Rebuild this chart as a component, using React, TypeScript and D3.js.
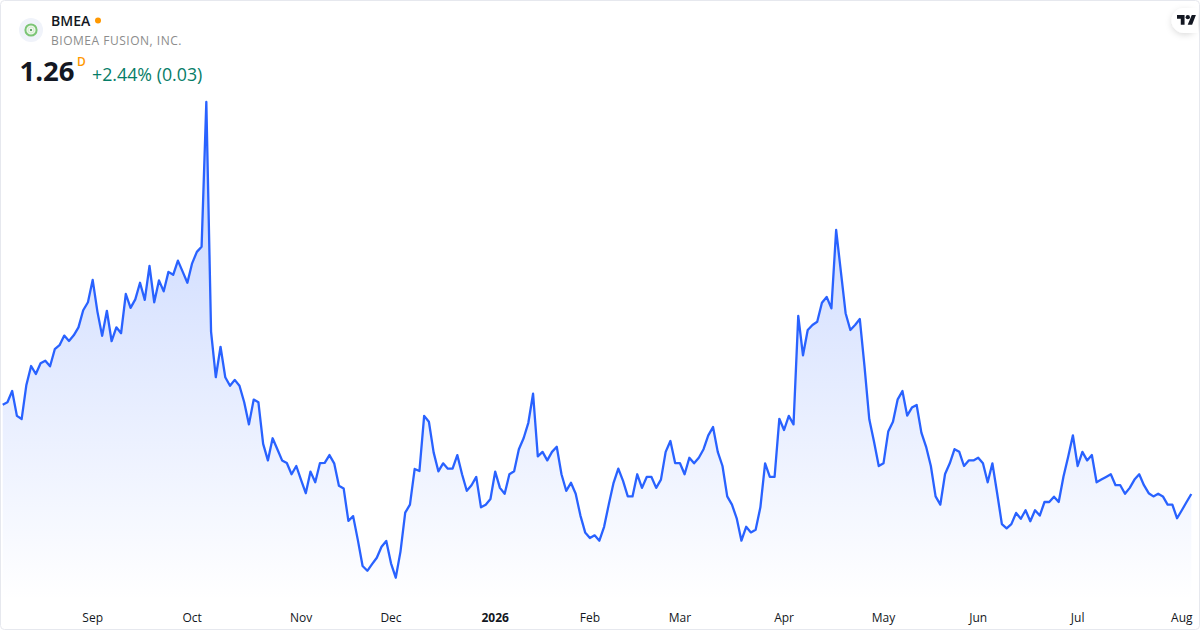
import * as d3 from "d3";

const width = 1200;
const height = 630;

// daily closes (252 sessions)
const closes = [
  1.595, 1.604, 1.646, 1.553, 1.541, 1.669, 1.74, 1.71, 1.75, 1.76, 1.739, 1.803,
  1.818, 1.854, 1.834, 1.855, 1.885, 1.949, 1.979, 2.063, 1.944, 1.853, 1.947, 1.833,
  1.885, 1.863, 2.01, 1.958, 1.99, 2.052, 1.988, 2.115, 1.979, 2.061, 2.02, 2.093,
  2.082, 2.135, 2.094, 2.052, 2.125, 2.168, 2.187, 2.73, 1.869, 1.698, 1.812, 1.698,
  1.666, 1.688, 1.666, 1.604, 1.521, 1.614, 1.604, 1.448, 1.386, 1.469, 1.428, 1.386,
  1.376, 1.334, 1.365, 1.313, 1.263, 1.344, 1.304, 1.376, 1.377, 1.406, 1.375, 1.291,
  1.281, 1.159, 1.177, 1.087, 0.99, 0.972, 0.997, 1.021, 1.062, 1.084, 1.0, 0.946,
  1.044, 1.19, 1.22, 1.354, 1.346, 1.553, 1.531, 1.416, 1.345, 1.375, 1.355, 1.355,
  1.406, 1.334, 1.272, 1.293, 1.324, 1.21, 1.22, 1.241, 1.344, 1.283, 1.261, 1.334,
  1.345, 1.428, 1.469, 1.527, 1.636, 1.401, 1.418, 1.386, 1.418, 1.437, 1.334, 1.272,
  1.302, 1.261, 1.179, 1.116, 1.095, 1.105, 1.085, 1.137, 1.222, 1.302, 1.355, 1.309,
  1.251, 1.251, 1.334, 1.283, 1.324, 1.324, 1.283, 1.314, 1.418, 1.459, 1.376, 1.376,
  1.334, 1.396, 1.375, 1.396, 1.428, 1.48, 1.511, 1.418, 1.365, 1.251, 1.22, 1.169,
  1.085, 1.137, 1.116, 1.126, 1.21, 1.375, 1.324, 1.324, 1.542, 1.5, 1.553, 1.521,
  1.928, 1.78, 1.875, 1.894, 1.906, 1.977, 1.999, 1.956, 2.25, 2.094, 1.938, 1.875,
  1.894, 1.916, 1.737, 1.54, 1.456, 1.365, 1.375, 1.494, 1.531, 1.615, 1.646, 1.554,
  1.584, 1.594, 1.49, 1.437, 1.365, 1.251, 1.22, 1.335, 1.375, 1.428, 1.418, 1.365,
  1.386, 1.386, 1.396, 1.375, 1.304, 1.375, 1.263, 1.147, 1.131, 1.147, 1.189, 1.167,
  1.199, 1.158, 1.199, 1.179, 1.23, 1.23, 1.25, 1.23, 1.325, 1.4, 1.48, 1.365,
  1.418, 1.386, 1.406, 1.304, 1.314, 1.324, 1.334, 1.293, 1.293, 1.261, 1.283, 1.314,
  1.334, 1.293, 1.263, 1.251, 1.261, 1.251, 1.22, 1.22, 1.169, 1.199, 1.23, 1.26,
];

const monthLabels = ["Sep", "Oct", "Nov", "Dec", "2026", "Feb", "Mar", "Apr", "May", "Jun", "Jul", "Aug"];
const monthSessions = [19, 40, 63, 82, 104, 124, 143, 165, 186, 206, 227, 249];

const fontStack = "'Open Sans', 'Noto Sans', sans-serif";

const App = () => {
  const sessions = d3.range(closes.length);

  // Set up the scales
  const xScale = d3.scalePoint<number>().domain(sessions).range([2.7, 1191.3]);
  const yScale = d3.scaleLinear().domain([1.26, 2.73]).range([494, 102]);
  const baseline = 600;

  const line = d3
    .line<number>()
    .x((_, i) => xScale(i)!)
    .y((d) => yScale(d));

  const area = d3
    .area<number>()
    .x((_, i) => xScale(i)!)
    .y0(baseline)
    .y1((d) => yScale(d));

  return (
    <svg
      width={width}
      height={height}
      style={{ position: "absolute", left: 0, top: 0, fontFamily: fontStack }}
    >
      <defs>
        <linearGradient
          id="fade"
          gradientUnits="userSpaceOnUse"
          x1={0}
          x2={0}
          y1={yScale(2.73)}
          y2={baseline}
        >
          <stop offset="0%" stopColor="#2962ff" stopOpacity={0.28} />
          <stop offset="100%" stopColor="#2962ff" stopOpacity={0} />
        </linearGradient>
        <filter id="bubble" x="-40%" y="-40%" width="180%" height="180%">
          <feDropShadow dx={0} dy={2} stdDeviation={3} floodColor="#000" floodOpacity={0.14} />
        </filter>
      </defs>

      <rect x={0} y={0} width={width} height={height} fill="#fff" />
      <rect
        x={0.5}
        y={0.5}
        width={width - 1}
        height={height - 1}
        rx={4}
        fill="none"
        stroke="#e6e8ee"
      />

      <path d={area(closes)!} fill="url(#fade)" />
      <path
        d={line(closes)!}
        fill="none"
        stroke="#2962ff"
        strokeWidth={2.3}
        strokeLinejoin="round"
      />

      {/* Month labels */}
      {monthLabels.map((label, i) => (
        <text
          key={label}
          x={xScale(monthSessions[i])!}
          y={622}
          fontSize={12}
          textAnchor="middle"
          fill="#131722"
          fontWeight={label === "2026" ? 700 : 400}
        >
          {label}
        </text>
      ))}

      {/* Symbol header */}
      <circle cx={31} cy={30} r={12} fill="#f0f3fa" />
      <circle cx={31} cy={30} r={5.6} fill="#eef7ec" stroke="#7cc576" strokeWidth={2} />
      <circle cx={31} cy={30} r={3} fill="none" stroke="#cfe9cb" strokeWidth={0.8} />
      <circle cx={31} cy={30} r={1} fill="#3f8f4a" />
      <text x={51} y={26} fontSize={14} fontWeight={600} fill="#131722">
        BMEA
      </text>
      <circle cx={98} cy={20.5} r={3} fill="#ff9800" />
      <text x={51} y={45} fontSize={12} fill="#8c8c8c" letterSpacing={0.52}>
        BIOMEA FUSION, INC.
      </text>
      <text x={19.5} y={81} fontSize={27.5} fontWeight={700} fill="#131722">
        1.26
      </text>
      <text x={77} y={66} fontSize={12} fontWeight={600} fill="#ff9800">
        D
      </text>
      <text x={92} y={81} fontSize={17.8} fill="#067d68">
        +2.44% (0.03)
      </text>

      {/* TradingView badge */}
      <rect x={1171.5} y={8} width={26.5} height={25} rx={12.5} fill="#fff" filter="url(#bubble)" />
      <rect x={1185} y={8} width={13} height={25} fill="#fff" />
      <g transform="translate(1177,14.5) scale(0.54)" fill="#131722">
        <path d="M14 19H7V8H0V1h14v18Zm14 0h-8.2l7.6-18H35l-7 18Z" />
        <circle cx={20} cy={5} r={4} />
      </g>
    </svg>
  );
};

export default App;
